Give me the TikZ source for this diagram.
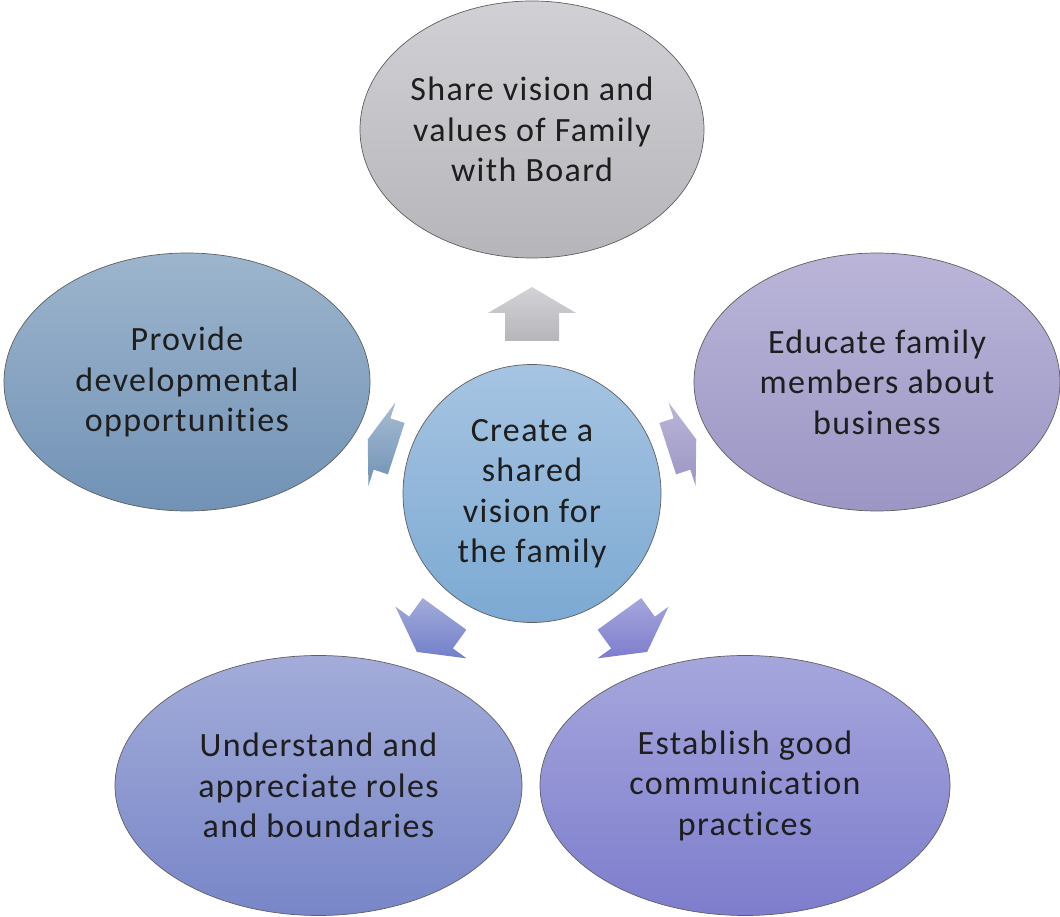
\documentclass[tikz,border=0pt]{standalone}
\usepackage{fontspec}
\setmainfont{Carlito}[Ligatures=NoCommon, LetterSpace=4]
\usetikzlibrary{shapes.geometric,calc}

\definecolor{greyTop}{HTML}{D1D1D5}
\definecolor{greyBot}{HTML}{B6B6BA}
\definecolor{steelTop}{HTML}{9DB5CD}
\definecolor{steelBot}{HTML}{7192B6}
\definecolor{lilacTop}{HTML}{BAB5D8}
\definecolor{lilacBot}{HTML}{9B96C4}
\definecolor{periTop}{HTML}{A3ACD9}
\definecolor{periBot}{HTML}{7886C8}
\definecolor{violTop}{HTML}{A6A6DD}
\definecolor{violBot}{HTML}{7D7DCD}
\definecolor{skyTop}{HTML}{A6C4E2}
\definecolor{skyBot}{HTML}{7CA9D2}
\definecolor{rim}{HTML}{5F5F5F}
\definecolor{ink}{HTML}{1E1E1E}

\tikzset{
  bubble/.style={ellipse, draw=rim, line width=0.7pt, inner sep=0pt},
  caption/.style={align=center, text=ink, inner sep=0pt,
    font=\fontsize{34}{40.5}\selectfont},
}

% block arrow: base point, angle, shaft length, head length, colours
\newcommand{\radarrow}[6]{%
  \shade[top color=#5, bottom color=#6]
    ($(#1)+(#2+90:27)+(#2+180:#3)$) -- ($(#1)+(#2+90:27)$)
    -- ($(#1)+(#2+90:44)$) -- ($(#1)+(#2:#4)$) -- ($(#1)+(#2-90:44)$)
    -- ($(#1)+(#2-90:27)$) -- ($(#1)+(#2-90:27)+(#2+180:#3)$) -- cycle;
}

\begin{document}
\begin{tikzpicture}[x=1pt, y=1pt]

    \useasboundingbox (0,0) rectangle (1060,916);

    % Top: share vision
    \node[bubble, top color=greyTop, bottom color=greyBot,
      minimum width=344, minimum height=257] (share) at (532,786.5) {};
    \node[caption] at (share) {Share vision and\\values of Family\\with Board};

    % Left: development
    \node[bubble, top color=steelTop, bottom color=steelBot,
      minimum width=366, minimum height=258] (provide) at (187,534) {};
    \node[caption] at (provide) {Provide\\developmental\\opportunities};

    % Right: education
    \node[bubble, top color=lilacTop, bottom color=lilacBot,
      minimum width=366, minimum height=258] (educate) at (877,534) {};
    \node[caption] at (educate) {Educate family\\members about\\business};

    % Bottom left: roles
    \node[bubble, top color=periTop, bottom color=periBot,
      minimum width=407, minimum height=260] (roles) at (318.5,130.5) {};
    \node[caption] at (roles) {Understand and\\appreciate roles\\and boundaries};

    % Bottom right: communication
    \node[bubble, top color=violTop, bottom color=violBot,
      minimum width=410, minimum height=260] (comm) at (745,130.5) {};
    \node[caption] at (comm) {Establish good\\communication\\practices};

    % Centre
    \node[bubble, circle, top color=skyTop, bottom color=skyBot,
      minimum size=258] (vision) at (532,422.5) {};
    \node[caption] at (vision) {Create a\\shared\\vision for\\the family};

    % Arrows
    \coordinate (upBase) at (532,603);
    \coordinate (leftBase) at (382,472);
    \coordinate (rightBase) at (682,472);
    \coordinate (dlBase) at (431,283.5);
    \coordinate (drBase) at (633,283.5);
    \radarrow{upBase}{90}{28}{26}{greyTop!95!white}{greyBot}
    \radarrow{leftBase}{162}{15}{15}{steelTop!90!white}{steelBot}
    \radarrow{rightBase}{18}{15}{15}{lilacTop}{lilacBot}
    \radarrow{dlBase}{-126}{23}{24}{periTop}{periBot!95!blue}
    \radarrow{drBase}{-54}{23}{24}{violTop}{violBot}

\end{tikzpicture}
\end{document}
